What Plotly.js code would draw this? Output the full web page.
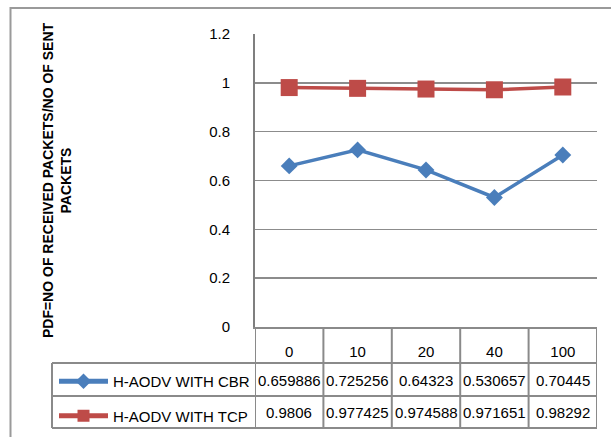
<!DOCTYPE html>
<html>
<head>
<meta charset="utf-8">
<script src="https://cdn.plot.ly/plotly-3.0.1.min.js"></script>
<style>
  html, body { margin: 0; padding: 0; background: #ffffff; }
  #chart { width: 611px; height: 437px; }
</style>
</head>
<body>
<div id="chart"></div>
<script>
// ---- data ----
const categories = ['0', '10', '20', '40', '100'];
const cbrName = 'H-AODV WITH CBR';
const cbrValues = [0.659886, 0.725256, 0.64323, 0.530657, 0.70445];
const tcpName = 'H-AODV WITH TCP';
const tcpValues = [0.9806, 0.977425, 0.974588, 0.971651, 0.98292];
const yTitle = 'PDF=NO OF RECEIVED PACKETS/NO OF SENT<br>PACKETS';

// ---- layout geometry (pixels) ----
const FONT = '"Liberation Sans", Arial, sans-serif';
const FS = 15;
const L = 255, R = 597, T = 34, B = 327, WIDTH = 611, HEIGHT = 437;
const PW = R - L, PH = B - T;
const px = v => (v - L) / PW;      // pixel x -> paper x
const py = v => (B - v) / PH;      // pixel y -> paper y
const GRID = '#8c8c8c';
const LINEC = '#8a8a8a';

const rowTops = [363, 396, 428];   // table row boundaries below header
const legendLeft = 52;
const rowCenters = [380, 412];

const series = [
  {name: cbrName, values: cbrValues, color: '#4a7ebb', symbol: 'diamond', size: 13},
  {name: tcpName, values: tcpValues, color: '#be4b48', symbol: 'square', size: 17}
];

const traces = series.map((s, k) => ({
  type: 'scatter',
  mode: 'lines+markers',
  x: categories,
  y: s.values,
  name: s.name,
  legendgroup: 'g' + k,
  line: {color: s.color, width: 3.5},
  marker: {color: s.color, symbol: s.symbol, size: s.size, line: {width: 0}},
  hoverinfo: 'x+y'
}));

const shapes = [];
// outer chart border (left/top visible)
shapes.push({type: 'rect', xref: 'paper', yref: 'paper',
  x0: px(10.5), x1: px(WIDTH + 10), y0: py(HEIGHT + 10), y1: py(8),
  line: {color: '#9a9a9a', width: 2}, fillcolor: 'rgba(0,0,0,0)', layer: 'below'});
// table vertical lines at category boundaries
for (let i = 0; i <= categories.length; i++) {
  shapes.push({type: 'line', xref: 'x', yref: 'paper',
    x0: i - 0.5, x1: i - 0.5, y0: py(B), y1: py(rowTops[2]),
    line: {color: LINEC, width: 2}});
}
// legend column left border
shapes.push({type: 'line', xref: 'paper', yref: 'paper',
  x0: px(legendLeft), x1: px(legendLeft), y0: py(rowTops[0]), y1: py(rowTops[2]),
  line: {color: LINEC, width: 2}});
// table horizontal lines
rowTops.forEach(yy => {
  shapes.push({type: 'line', xref: 'paper', yref: 'paper',
    x0: px(legendLeft), x1: 1, y0: py(yy), y1: py(yy),
    line: {color: LINEC, width: 2}});
});

// table value cells
const annotations = [];
series.forEach((s, r) => {
  s.values.forEach((v, i) => {
    annotations.push({xref: 'x', yref: 'paper', x: i, y: py(rowCenters[r]),
      text: String(v), showarrow: false, xanchor: 'center', yanchor: 'middle',
      font: {family: FONT, size: FS, color: '#000'}});
  });
});

const layout = {
  width: WIDTH, height: HEIGHT,
  margin: {l: L, r: WIDTH - R, t: T, b: HEIGHT - B, pad: 0, autoexpand: false},
  paper_bgcolor: '#ffffff', plot_bgcolor: '#ffffff',
  font: {family: FONT, size: FS, color: '#000'},
  showlegend: true,
  legend: {x: px(54), y: py(365), xanchor: 'left', yanchor: 'top',
    bgcolor: 'rgba(0,0,0,0)', borderwidth: 0,
    traceorder: 'grouped', tracegroupgap: 12, itemwidth: 49, itemsizing: 'constant',
    font: {family: FONT, size: FS, color: '#000'}},
  xaxis: {type: 'category', range: [-0.5, categories.length - 0.5],
    showgrid: false, zeroline: false, showline: true, linecolor: LINEC, linewidth: 2,
    ticks: '', ticklabelstandoff: 10, fixedrange: true,
    tickfont: {family: FONT, size: FS, color: '#000'}},
  yaxis: {range: [0, 1.2], dtick: 0.2, tick0: 0, showgrid: true, gridcolor: GRID, gridwidth: 1.5,
    zeroline: false, showline: true, linecolor: '#7f7f7f', linewidth: 2,
    ticks: '', ticklabelstandoff: 20, fixedrange: true,
    tickfont: {family: FONT, size: FS, color: '#000'},
    title: {text: yTitle, standoff: 134,
      font: {family: FONT, size: 14, color: '#000', weight: 'bold'}}},
  shapes: shapes,
  annotations: annotations
};

Plotly.newPlot('chart', traces, layout, {displayModeBar: false, staticPlot: true});
</script>
</body>
</html>
